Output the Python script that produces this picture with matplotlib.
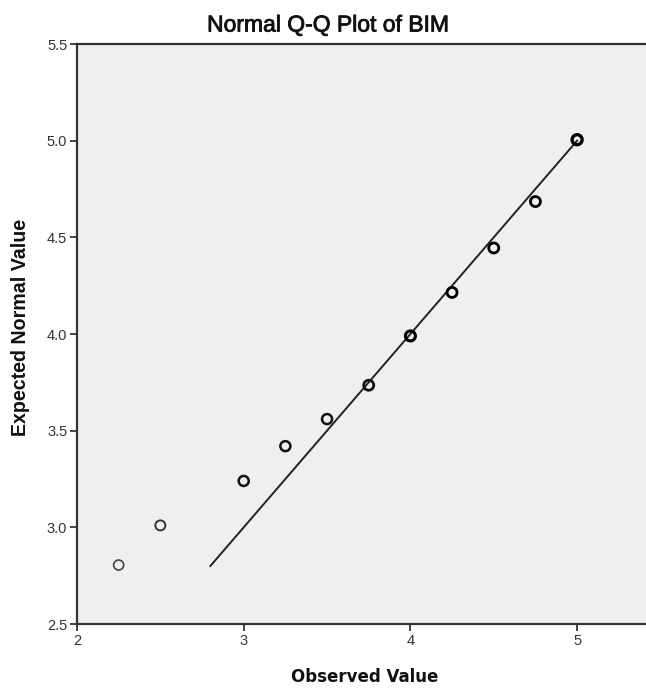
import matplotlib
matplotlib.use("Agg")
import matplotlib.pyplot as plt
import matplotlib.patheffects as pe

plt.rcParams['font.family'] = ['Liberation Sans', 'DejaVu Sans']

observed = [2.25, 2.5, 3.0, 3.25, 3.5, 3.75, 4.0, 4.25, 4.5, 4.75, 5.0]
expected = [2.805, 3.01, 3.24, 3.42, 3.56, 3.735, 3.99, 4.215, 4.445, 4.685, 5.005]
edge_colors = ['#444444', '#333333', '#111111', '#111111', '#111111', '#111111',
               '#000000', '#000000', '#000000', '#000000', '#000000']
edge_widths = [1.2, 1.4, 1.8, 1.8, 1.8, 2.0, 2.2, 2.0, 2.0, 2.0, 2.4]
ref_line = [2.8, 5.0]
xticks = [2, 3, 4, 5]
yticks = [2.5, 3.0, 3.5, 4.0, 4.5, 5.0, 5.5]

fig = plt.figure(figsize=(6.46, 6.89), dpi=100)
W, H = 646, 689
ax = fig.add_axes([77 / W, (H - 624) / H, (646 - 77) / W, (624 - 44) / H])
ax.set_facecolor('#efefef')

ax.plot(ref_line, ref_line, color='#222222', lw=1.4, zorder=2)
for x, y, c, w in zip(observed, expected, edge_colors, edge_widths):
    ax.scatter([x], [y], s=52, facecolors='none', edgecolors=c, linewidths=w, zorder=3)

ax.set_xlim(2, 2 + (646 - 77) / 166.7)
ax.set_ylim(2.5, 5.5)
ax.set_xticks(xticks)
ax.set_xticklabels([str(t) for t in xticks])
ax.set_yticks(yticks)
ax.set_yticklabels([f'{t:.1f}' for t in yticks])
ax.tick_params(direction='out', length=5, width=1.2, color='#222222',
               labelsize=10.5, labelcolor='#333333', pad=2)

for s in ['left', 'bottom', 'top']:
    ax.spines[s].set_linewidth(1.6)
    ax.spines[s].set_color('#333333')
ax.spines['right'].set_visible(False)

fig.text(328 / W, 1 - 25 / H, 'Normal Q-Q Plot of BIM', ha='center', va='center',
         fontsize=16.5, color='#111111',
         path_effects=[pe.withStroke(linewidth=0.6, foreground='#111111')])
fig.text(365 / W, 1 - 677 / H, 'Observed Value', ha='center', va='center',
         fontsize=12, fontweight='bold', color='#111111', family='DejaVu Sans')
fig.text(21 / W, 1 - 327 / H, 'Expected Normal Value', ha='center', va='center',
         rotation=90, fontsize=14.1, fontweight='bold', color='#111111')

fig.savefig('out.png', dpi=100)
